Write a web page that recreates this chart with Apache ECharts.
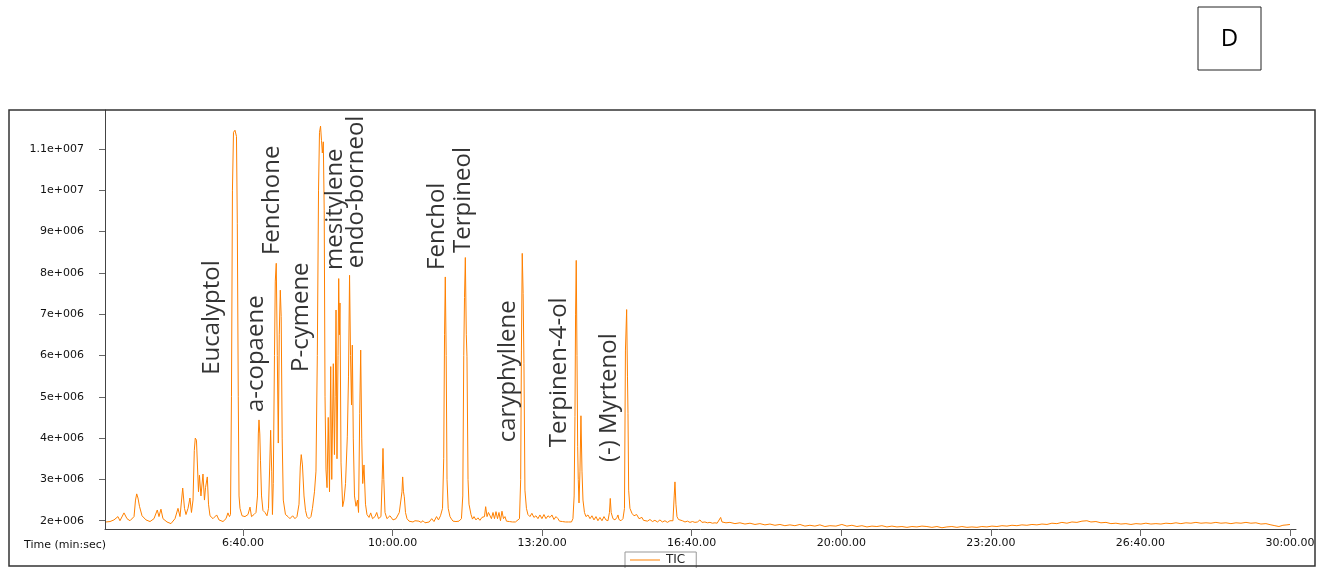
<!DOCTYPE html>
<html>
<head>
<meta charset="utf-8">
<script src="https://cdn.jsdelivr.net/npm/echarts@6/dist/echarts.min.js"></script>
<style>
html,body{margin:0;padding:0;background:#fff;}
#chart{width:1322px;height:568px;}
</style>
</head>
<body>
<div id="chart"></div>
<script>
// Tick positions (seconds) and their labels
const xTickValues = [400, 600, 800, 1000, 1200, 1400, 1600, 1800];
const xTickLabels = ['6:40.00', '10:00.00', '13:20.00', '16:40.00', '20:00.00', '23:20.00', '26:40.00', '30:00.00'];
const yTickValues = [2e6, 3e6, 4e6, 5e6, 6e6, 7e6, 8e6, 9e6, 1e7, 1.1e7];
const yTickLabels = ['2e+006', '3e+006', '4e+006', '5e+006', '6e+006', '7e+006', '8e+006', '9e+006', '1e+007', '1.1e+007'];

// Peak annotations: name, retention time (s), intensity where the label starts
const peakNames = ['Eucalyptol', 'a-copaene', 'Fenchone', 'P-cymene', 'mesitylene', 'endo-borneol', 'Fenchol', 'Terpineol', 'caryphyllene', 'Terpinen-4-ol', '(-) Myrtenol'];
const peakTimes = [358.6, 418.0, 438.8, 477.5, 523.0, 551.7, 659.4, 694.8, 754.3, 823.2, 890.0];
const peakLabelValues = [5.53e6, 4.63e6, 8.43e6, 5.6e6, 8.07e6, 8.11e6, 8.07e6, 8.48e6, 3.9e6, 3.78e6, 3.42e6];

// Total ion chromatogram: [time (s), intensity]
const ticTrace = [
[216.8,1.97e6],[222.2,1.98e6],[227.5,2.02e6],[232.8,2.1e6],[235.5,2.0e6],[240.9,2.19e6],[244.9,2.05e6],[248.9,2.0e6],[254.3,2.1e6],[256.3,2.5e6],[257.9,2.65e6],[259.6,2.55e6],[261.6,2.35e6],[265.0,2.12e6],[270.3,2.02e6],[275.7,1.98e6],[281.0,2.05e6],[285.4,2.26e6],[287.7,2.1e6],[290.3,2.28e6],[293.0,2.05e6],[298.4,1.97e6],[303.7,1.93e6],[309.1,2.05e6],[313.1,2.3e6],[315.8,2.1e6],[319.4,2.79e6],[321.8,2.3e6],[323.8,2.15e6],[326.5,2.3e6],[329.1,2.55e6],[331.1,2.2e6],[333.2,2.5e6],[334.9,3.7e6],[336.2,4.0e6],[337.8,3.95e6],[339.2,3.3e6],[340.5,2.7e6],[341.8,3.1e6],[343.8,2.6e6],[346.5,3.13e6],[348.5,2.5e6],[349.9,2.8e6],[352.3,3.06e6],[353.9,2.4e6],[355.9,2.12e6],[359.9,2.05e6],[364.8,2.14e6],[367.9,2.02e6],[373.3,1.98e6],[377.3,2.05e6],[379.9,2.19e6],[381.9,2.1e6],[383.3,2.15e6],[384.6,5.0e6],[385.9,10.0e6],[387.3,11.4e6],[389.3,11.45e6],[391.3,11.3e6],[392.4,9.2e6],[393.7,5.0e6],[394.7,2.6e6],[396.0,2.3e6],[398.7,2.12e6],[402.7,2.1e6],[406.7,2.15e6],[409.4,2.33e6],[411.4,2.1e6],[414.7,2.15e6],[417.4,2.2e6],[419.4,2.6e6],[420.5,4.1e6],[421.4,4.44e6],[422.5,4.1e6],[423.4,3.45e6],[424.8,2.6e6],[426.7,2.25e6],[429.4,2.2e6],[432.1,2.12e6],[434.1,2.3e6],[435.7,3.3e6],[437.0,4.19e6],[438.4,3.2e6],[439.4,2.15e6],[440.5,2.9e6],[442.1,6.0e6],[443.2,7.8e6],[444.5,8.23e6],[445.9,6.0e6],[447.2,3.88e6],[448.5,6.5e6],[449.9,7.58e6],[451.1,6.94e6],[452.4,4.0e6],[453.9,2.5e6],[455.2,2.46e6],[456.8,2.15e6],[460.2,2.1e6],[462.8,2.05e6],[466.4,2.12e6],[469.5,2.05e6],[472.2,2.1e6],[474.9,2.4e6],[476.6,3.3e6],[477.9,3.6e6],[479.5,3.35e6],[481.6,2.6e6],[483.6,2.25e6],[485.6,2.1e6],[488.2,2.05e6],[490.9,2.1e6],[492.9,2.3e6],[495.6,2.7e6],[497.6,3.2e6],[499.4,6.0e6],[501.0,10.0e6],[502.3,11.4e6],[503.7,11.55e6],[505.0,11.2e6],[506.1,10.9e6],[507.4,11.17e6],[508.6,9.5e6],[509.7,5.0e6],[511.0,3.23e6],[512.4,2.8e6],[514.0,4.5e6],[515.7,2.7e6],[517.3,5.73e6],[518.7,3.0e6],[520.8,5.8e6],[522.3,3.6e6],[523.3,5.0e6],[524.4,7.1e6],[525.7,3.5e6],[527.1,6.0e6],[528.0,7.86e6],[528.9,6.5e6],[529.7,7.27e6],[531.1,3.4e6],[533.3,2.34e6],[535.1,2.5e6],[537.1,2.9e6],[539.5,4.03e6],[541.1,5.5e6],[542.5,7.94e6],[543.8,6.0e6],[545.1,4.8e6],[546.2,6.25e6],[547.5,4.0e6],[549.1,2.6e6],[551.1,2.35e6],[553.1,2.5e6],[554.5,2.2e6],[556.1,4.6e6],[557.4,6.13e6],[558.8,4.0e6],[560.1,2.9e6],[561.8,3.35e6],[563.8,2.4e6],[565.8,2.15e6],[568.5,2.08e6],[570.8,2.19e6],[573.2,2.05e6],[576.5,2.1e6],[578.8,2.2e6],[581.2,2.05e6],[584.5,2.1e6],[586.1,3.0e6],[587.2,3.75e6],[588.3,3.0e6],[589.9,2.2e6],[592.5,2.05e6],[596.5,2.12e6],[600.6,2.02e6],[604.6,2.05e6],[609.0,2.2e6],[611.2,2.2e6],[612.6,2.7e6],[613.5,3.06e6],[614.6,2.7e6],[615.7,2.58e6],[617.3,2.2e6],[619.3,2.05e6],[622.0,1.99e6],[624.6,2.02e6],[627.3,1.97e6],[630.0,2.0e6],[632.6,1.96e6],[635.3,1.99e6],[638.0,1.96e6],[640.7,2.0e6],[643.4,1.95e6],[646.0,1.98e6],[649.0,1.97e6],[652.3,2.05e6],[655.4,1.98e6],[658.8,2.1e6],[661.4,2.02e6],[664.1,2.12e6],[666.8,2.3e6],[668.4,3.5e6],[669.5,6.5e6],[670.5,7.9e6],[671.7,6.0e6],[672.8,3.0e6],[674.4,2.3e6],[676.8,2.1e6],[678.8,2.04e6],[680.8,1.99e6],[682.8,2.03e6],[684.8,1.98e6],[686.8,2.02e6],[688.8,1.99e6],[692.1,2.05e6],[693.9,2.6e6],[695.2,6.0e6],[696.2,7.4e6],[697.3,8.37e6],[698.6,6.5e6],[699.5,5.97e6],[700.9,3.0e6],[702.2,2.4e6],[704.9,2.15e6],[706.9,2.04e6],[708.9,2.1e6],[711.5,2.02e6],[714.2,2.07e6],[716.8,2.01e6],[719.5,2.08e6],[722.9,2.1e6],[724.5,2.34e6],[726.3,2.1e6],[728.2,2.2e6],[730.2,2.19e6],[732.2,2.05e6],[734.3,2.2e6],[736.3,2.05e6],[738.3,2.22e6],[740.3,2.05e6],[742.3,2.2e6],[744.3,2.0e6],[746.3,2.23e6],[748.3,2.05e6],[750.3,2.1e6],[752.3,1.99e6],[754.3,2.03e6],[756.3,1.98e6],[758.3,2.01e6],[760.3,1.97e6],[762.3,2.0e6],[764.3,1.97e6],[766.3,2.0e6],[769.7,2.05e6],[771.3,3.0e6],[772.3,6.13e6],[773.4,8.47e6],[774.6,7.5e6],[775.7,5.8e6],[777.0,2.74e6],[779.0,2.3e6],[781.0,2.15e6],[783.7,2.1e6],[786.3,2.18e6],[789.0,2.08e6],[791.7,2.12e6],[794.4,2.05e6],[797.1,2.14e6],[799.7,2.05e6],[802.4,2.15e6],[805.1,2.05e6],[807.8,2.12e6],[810.5,2.08e6],[813.1,2.14e6],[815.8,2.03e6],[818.5,2.1e6],[821.2,2.05e6],[823.2,1.99e6],[825.2,2.03e6],[827.2,1.98e6],[829.2,2.01e6],[831.2,1.97e6],[833.2,2.01e6],[835.2,1.97e6],[837.2,1.99e6],[839.2,1.97e6],[841.2,2.05e6],[842.8,2.6e6],[843.9,4.52e6],[844.7,7.0e6],[845.6,8.3e6],[846.6,6.0e6],[847.5,3.79e6],[848.3,3.0e6],[849.3,2.43e6],[850.6,3.2e6],[851.9,4.54e6],[853.3,3.2e6],[854.6,2.5e6],[856.6,2.2e6],[858.6,2.1e6],[861.3,2.14e6],[864.0,2.05e6],[866.6,2.12e6],[869.3,2.02e6],[872.0,2.1e6],[874.6,2.0e6],[877.3,2.08e6],[880.0,2.0e6],[882.7,2.1e6],[885.3,2.02e6],[888.0,2.0e6],[890.0,2.2e6],[891.1,2.54e6],[892.3,2.2e6],[894.7,2.05e6],[897.4,2.02e6],[900.0,2.08e6],[901.4,2.14e6],[902.7,2.03e6],[905.4,2.0e6],[908.1,2.05e6],[910.1,2.3e6],[911.4,6.13e6],[913.0,7.11e6],[914.1,5.5e6],[914.8,4.6e6],[915.7,2.74e6],[917.4,2.3e6],[920.1,2.18e6],[922.8,2.12e6],[926.4,2.15e6],[929.5,2.05e6],[933.5,2.08e6],[935.5,2.01e6],[937.5,2.05e6],[940.8,1.99e6],[944.2,2.03e6],[947.5,1.98e6],[950.8,2.01e6],[954.2,1.97e6],[957.5,2.02e6],[960.8,1.97e6],[964.2,2.0e6],[967.5,1.96e6],[970.9,2.0e6],[974.9,2.0e6],[976.6,2.6e6],[977.6,2.94e6],[978.9,2.4e6],[980.3,2.1e6],[982.3,2.03e6],[984.3,1.99e6],[987.6,2.0e6],[991.0,1.97e6],[994.3,1.99e6],[997.7,1.96e6],[1001.0,1.98e6],[1004.3,1.96e6],[1007.7,1.97e6],[1011.0,2.02e6],[1013.7,1.96e6],[1017.7,1.97e6],[1021.0,1.95e6],[1024.4,1.96e6],[1027.7,1.94e6],[1031.1,1.95e6],[1034.0,1.94e6],[1036.4,1.97e6],[1038.7,2.08e6],[1040.5,1.97e6],[1045.8,1.95e6],[1051.1,1.96e6],[1057.8,1.93e6],[1064.5,1.95e6],[1071.2,1.92e6],[1077.9,1.94e6],[1084.6,1.91e6],[1091.2,1.93e6],[1097.9,1.9e6],[1104.6,1.92e6],[1111.3,1.89e6],[1118.0,1.91e6],[1124.6,1.88e6],[1131.3,1.9e6],[1138.0,1.88e6],[1144.7,1.91e6],[1151.4,1.87e6],[1158.1,1.89e6],[1164.7,1.87e6],[1171.4,1.9e6],[1178.1,1.86e6],[1184.8,1.88e6],[1192.8,1.87e6],[1200.8,1.91e6],[1207.5,1.87e6],[1214.2,1.89e6],[1220.9,1.86e6],[1227.6,1.88e6],[1234.3,1.85e6],[1241.0,1.87e6],[1247.6,1.86e6],[1254.3,1.88e6],[1261.0,1.85e6],[1267.7,1.87e6],[1274.4,1.85e6],[1281.1,1.86e6],[1287.8,1.84e6],[1294.5,1.86e6],[1301.1,1.85e6],[1307.8,1.87e6],[1314.5,1.86e6],[1321.2,1.84e6],[1327.9,1.86e6],[1334.6,1.83e6],[1341.2,1.85e6],[1347.9,1.86e6],[1354.6,1.84e6],[1361.3,1.86e6],[1368.0,1.84e6],[1374.7,1.85e6],[1381.4,1.84e6],[1388.0,1.86e6],[1394.7,1.85e6],[1401.4,1.87e6],[1408.1,1.86e6],[1414.8,1.88e6],[1421.5,1.87e6],[1428.2,1.89e6],[1434.8,1.88e6],[1441.5,1.9e6],[1448.2,1.89e6],[1454.9,1.91e6],[1461.6,1.9e6],[1468.3,1.92e6],[1475.0,1.91e6],[1481.6,1.94e6],[1488.3,1.93e6],[1495.0,1.96e6],[1501.7,1.94e6],[1508.4,1.97e6],[1515.1,1.96e6],[1521.8,1.99e6],[1528.4,2.0e6],[1533.8,1.97e6],[1540.5,1.98e6],[1547.2,1.95e6],[1553.9,1.96e6],[1560.5,1.93e6],[1567.2,1.94e6],[1573.9,1.92e6],[1580.6,1.93e6],[1587.3,1.91e6],[1594.0,1.93e6],[1600.7,1.92e6],[1607.3,1.94e6],[1614.0,1.92e6],[1620.7,1.93e6],[1627.4,1.92e6],[1634.1,1.94e6],[1640.8,1.93e6],[1647.5,1.95e6],[1654.1,1.93e6],[1660.8,1.95e6],[1667.5,1.94e6],[1674.2,1.96e6],[1680.9,1.94e6],[1687.6,1.95e6],[1694.3,1.94e6],[1700.9,1.96e6],[1707.6,1.94e6],[1714.3,1.95e6],[1721.0,1.93e6],[1727.7,1.95e6],[1734.4,1.94e6],[1741.1,1.96e6],[1747.7,1.94e6],[1754.4,1.95e6],[1761.1,1.92e6],[1767.8,1.93e6],[1774.5,1.9e6],[1779.8,1.88e6],[1785.2,1.86e6],[1790.5,1.89e6],[1795.9,1.9e6],[1799.9,1.91e6]
];

const chart = echarts.init(document.getElementById('chart'), null, {renderer: 'canvas'});
const axisFont = 'DejaVu Sans';

const option = {
  animation: false,
  backgroundColor: '#ffffff',
  grid: {left: 105, right: 26, top: 110, bottom: 39, containLabel: false},
  legend: {
    data: ['TIC'],
    left: 625, top: 552,
    orient: 'horizontal',
    icon: 'rect',
    itemWidth: 30, itemHeight: 1,
    itemGap: 4,
    padding: [2, 11, 3, 5],
    borderColor: '#999999', borderWidth: 1,
    backgroundColor: '#ffffff',
    textStyle: {fontFamily: axisFont, fontSize: 12, color: '#222222', padding: [0, 0, 0, 1]}
  },
  xAxis: {
    type: 'value',
    min: 215.5, max: 1808,
    axisLine: {show: true, lineStyle: {color: '#444444', width: 1}},
    axisTick: {show: true, length: 7, lineStyle: {color: '#666666'}, customValues: xTickValues},
    axisLabel: {
      customValues: xTickValues,
      margin: 9,
      fontFamily: axisFont, fontSize: 11, color: '#111111',
      formatter: function (v) { const i = xTickValues.indexOf(v); return i >= 0 ? xTickLabels[i] : ''; }
    },
    splitLine: {show: false}
  },
  yAxis: {
    type: 'value',
    min: 1.8e6, max: 1.194e7,
    axisLine: {show: true, lineStyle: {color: '#444444', width: 1}},
    axisTick: {show: true, length: 6, lineStyle: {color: '#666666'}, customValues: yTickValues},
    axisLabel: {
      customValues: yTickValues,
      margin: 21,
      fontFamily: axisFont, fontSize: 11, color: '#111111',
      formatter: function (v) { const i = yTickValues.indexOf(v); return i >= 0 ? yTickLabels[i] : ''; }
    },
    splitLine: {show: false}
  },
  series: [
    {
      name: 'TIC',
      type: 'line',
      data: ticTrace,
      symbol: 'none',
      showSymbol: false,
      lineStyle: {color: '#ff8000', width: 1},
      itemStyle: {color: '#ff8000'},
      z: 3
    },
    {
      name: 'labels',
      type: 'scatter',
      symbolSize: 0,
      silent: true,
      z: 5,
      data: peakNames.map(function (n, i) { return {name: n, value: [peakTimes[i], peakLabelValues[i]]}; }),
      label: {
        show: true,
        position: 'inside',
        formatter: '{b}',
        rotate: 90,
        align: 'left',
        verticalAlign: 'middle',
        fontFamily: 'Open Sans',
        fontSize: 24,
        color: '#000000'
      }
    }
  ],
  graphic: [
    {type: 'rect', shape: {x: 9, y: 110, width: 1306, height: 456}, style: {fill: 'none', stroke: '#333333', lineWidth: 1.5}, z: 100, silent: true},
    {type: 'rect', shape: {x: 1198, y: 7, width: 63, height: 63}, style: {fill: '#ffffff', stroke: '#222222', lineWidth: 1}, z: 100, silent: true},
    {type: 'text', x: 1229.5, y: 39, style: {text: 'D', fontFamily: 'Open Sans', fontSize: 24, fill: '#000000', textAlign: 'center', textVerticalAlign: 'middle'}, z: 101, silent: true},
    {type: 'text', x: 106, y: 545, style: {text: 'Time (min:sec)', fontFamily: axisFont, fontSize: 11, fill: '#111111', textAlign: 'right', textVerticalAlign: 'middle'}, z: 101, silent: true}
  ]
};
chart.setOption(option);
</script>
</body>
</html>
